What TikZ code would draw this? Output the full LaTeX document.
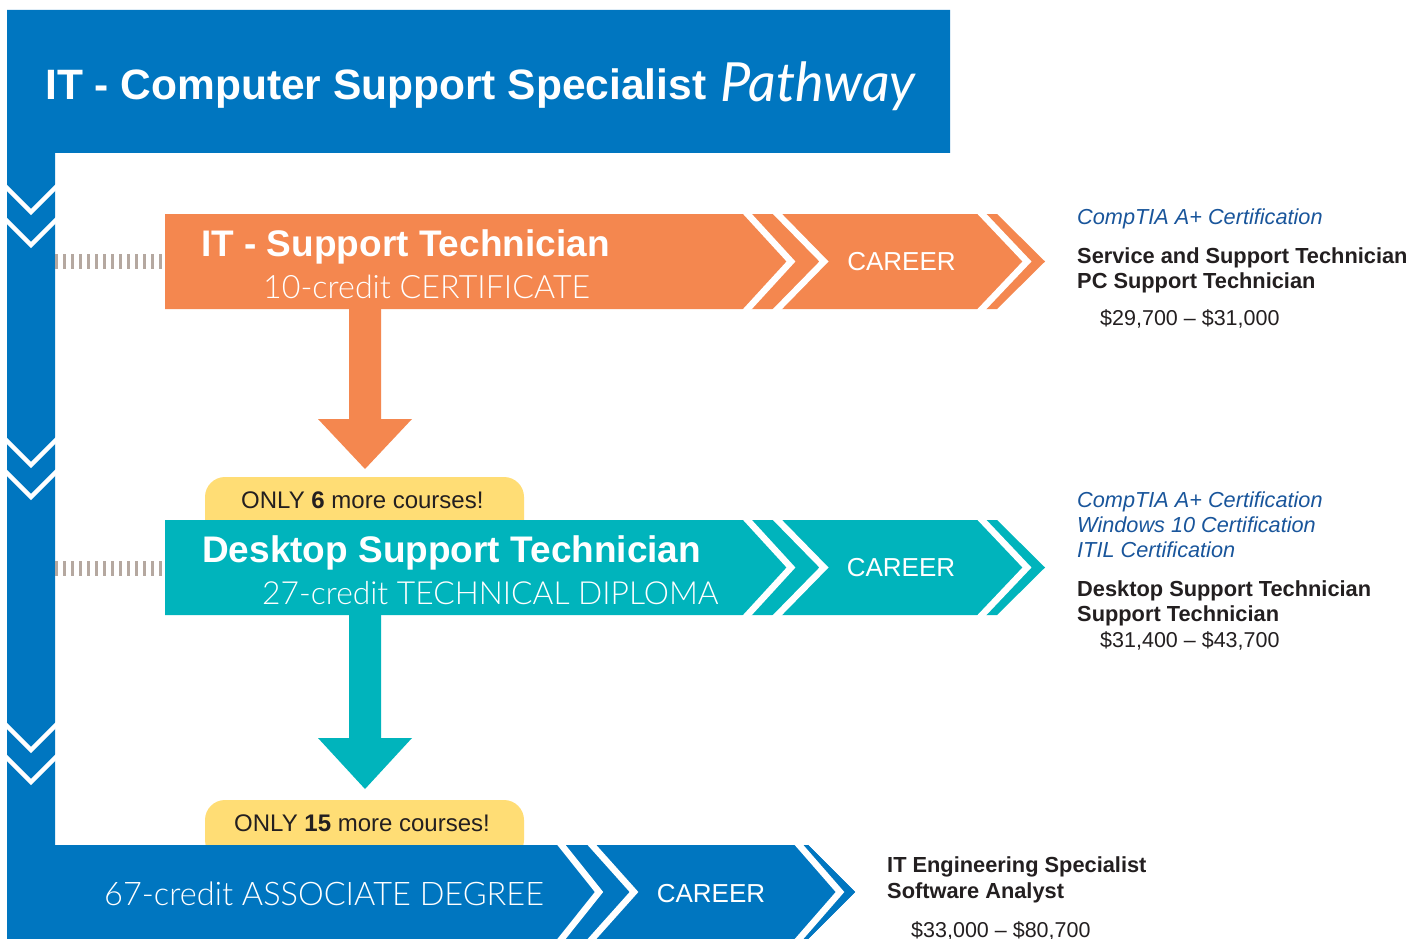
\documentclass[tikz,border=0pt]{standalone}
\usepackage{fontspec}
\setmainfont{Liberation Sans}
\newfontfamily\pathfont{Lato}
\newfontfamily\lightfont{Lato Light}
\definecolor{cblue}{RGB}{0,118,192}
\definecolor{corange}{RGB}{244,135,79}
\definecolor{cteal}{RGB}{0,180,188}
\definecolor{cyellow}{RGB}{255,221,117}
\definecolor{ctext}{RGB}{35,31,32}
\definecolor{citalic}{RGB}{25,85,155}
\definecolor{cdash}{RGB}{181,168,160}
\tikzset{
  stripe/.style={draw=white,line width=6.5pt,miter limit=10},
  vstripe/.style={draw=white,line width=4.5pt,miter limit=10},
  dashconn/.style={draw=cdash,line width=15pt,dash pattern=on 3pt off 5pt},
  txt/.style={inner sep=0pt,anchor=base west},
  bartitle/.style={txt,text=white,font=\fontsize{37}{40}\selectfont\bfseries},
  barsub/.style={txt,text=white},
  career/.style={inner sep=0pt,anchor=base,text=white,font=\fontsize{26}{30}\selectfont},
  cert/.style={txt,text=citalic,font=\fontsize{21.7}{25}\selectfont\itshape},
  job/.style={txt,text=ctext,font=\fontsize{21.8}{25}\selectfont\bfseries},
  pay/.style={txt,text=ctext,font=\fontsize{21.5}{25}\selectfont},
  tabtxt/.style={txt,text=ctext,font=\fontsize{24}{28}\selectfont},
}
\begin{document}
\begin{tikzpicture}[x=1pt,y=-1pt]
\useasboundingbox (0,0) rectangle (1424,939);
\fill[white] (0,0) rectangle (1424,939);

% blue frame: title, left bar
\fill[cblue] (7,10) -- (950,10) -- (950,153) -- (55,153) -- (55,845) -- (808,845)
  -- (855,892) -- (808,939) -- (7,939) -- cycle;
% chevrons in left bar
\foreach \yy in {188,221,441,473,726,758}
  \draw[vstripe] (2,\yy-5) -- (31,\yy+24) -- (60,\yy-5);

% orange down arrow
\fill[corange] (349,305) -- (381,305) -- (381,419) -- (412,419) -- (365,469) -- (318,419) -- (349,419) -- cycle;
% teal down arrow
\fill[cteal] (349,610) -- (381,610) -- (381,738) -- (412,738) -- (365,789) -- (318,738) -- (349,738) -- cycle;

% yellow tabs
\fill[cyellow,rounded corners=20pt] (205,540) -- (205,477) -- (524,477) -- (524,540) -- cycle;
\fill[cyellow,rounded corners=20pt] (205,860) -- (205,800) -- (524,800) -- (524,860) -- cycle;

% bottom arrow bar
\fill[cblue] (55,845) -- (808,845) -- (855,892) -- (808,939) -- (55,939) -- cycle;
\draw[stripe] (556.7,839) -- (599,892) -- (556.7,945);
\draw[stripe] (586.6,839) -- (634,892) -- (586.6,945);
\draw[stripe] (793.8,839) -- (840,892) -- (793.8,945);

% orange bar
\fill[corange] (165,214) -- (997,214) -- (1045,261.5) -- (997,309) -- (165,309) -- cycle;
\draw[stripe] (742,208) -- (791,261.5) -- (742,315);
\draw[stripe] (771.6,208) -- (824,261.5) -- (771.6,315);
\draw[stripe] (976.3,208) -- (1027,261.5) -- (976.3,315);
% teal bar
\fill[cteal] (165,520) -- (997,520) -- (1045,567.5) -- (997,615) -- (165,615) -- cycle;
\draw[stripe] (742,514) -- (791,567.5) -- (742,621);
\draw[stripe] (771.6,514) -- (824,567.5) -- (771.6,621);
\draw[stripe] (976.3,514) -- (1027,567.5) -- (976.3,621);

% connectors
\coordinate (barA) at (55,261.5);
\coordinate (boxA) at (165,261.5);
\coordinate (barB) at (55,568);
\coordinate (boxB) at (165,568);
\draw[dashconn] (barA) -- (boxA);
\draw[dashconn] (barB) -- (boxB);

% title
\node[txt,text=white,font=\fontsize{42.5}{46}\selectfont\bfseries] (title) at (45,100) {IT - Computer Support Specialist};
\node[txt,text=white,font=\fontsize{54}{58}\selectfont\pathfont\itshape] (pathway) at (720,102) {Pathway};

% orange bar text
\node[bartitle] (t1) at (201,256) {IT - Support Technician};
\node[barsub,font=\fontsize{32.2}{36}\selectfont\lightfont] (s1) at (263,298) {10-credit CERTIFICATE};
\node[career] (c1) at (901.5,270) {CAREER};
% teal bar text
\node[barsub,font=\fontsize{31.8}{36}\selectfont\lightfont] (s2) at (262,604) {27-credit TECHNICAL DIPLOMA};
\node[bartitle] (t2) at (202,562) {Desktop Support Technician};
\node[career] (c2) at (901,576) {CAREER};
% bottom bar text
\node[barsub,font=\fontsize{32.5}{36}\selectfont\lightfont] (s3) at (104,905) {67-credit ASSOCIATE DEGREE};
\node[career] (c3) at (711,902) {CAREER};

% tabs text
\node[tabtxt] (tab1) at (241,508) {ONLY \textbf{6} more courses!};
\node[tabtxt] (tab2) at (234,831) {ONLY \textbf{15} more courses!};

% right column 1
\node[cert] (r11) at (1077,224) {CompTIA A+ Certification};
\node[job] (r12) at (1077,263) {Service and Support Technician};
\node[job] (r13) at (1077,288) {PC Support Technician};
\node[pay] (r14) at (1100,325) {\$29,700 – \$31,000};
% right column 2
\node[cert] (r21) at (1077,507) {CompTIA A+ Certification};
\node[cert] (r22) at (1077,532) {Windows 10 Certification};
\node[cert] (r23) at (1077,557) {ITIL Certification};
\node[job] (r24) at (1077,596) {Desktop Support Technician};
\node[job] (r25) at (1077,621) {Support Technician};
\node[pay] (r26) at (1100,647) {\$31,400 – \$43,700};
% right column 3
\node[job] (r31) at (887,872) {IT Engineering Specialist};
\node[job] (r32) at (887,898) {Software Analyst};
\node[pay] (r33) at (911,937) {\$33,000 – \$80,700};
\end{tikzpicture}
\end{document}
